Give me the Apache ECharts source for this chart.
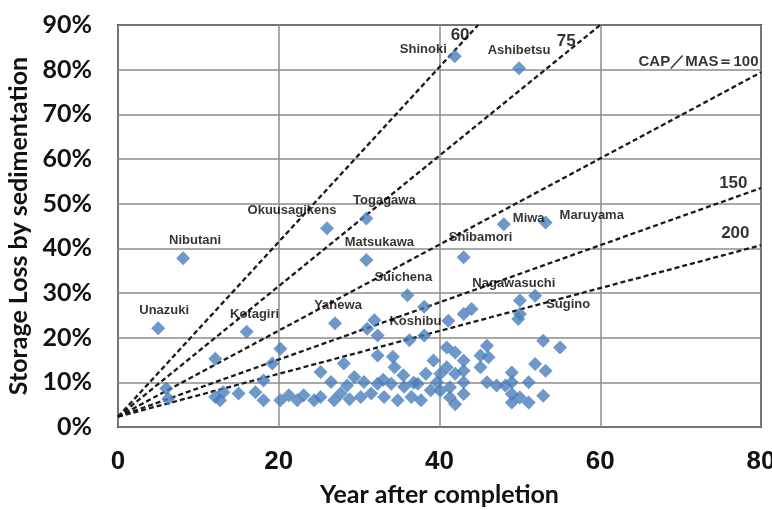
<!DOCTYPE html>
<html>
<head>
<meta charset="utf-8">
<script src="https://cdn.jsdelivr.net/npm/echarts@6/dist/echarts.min.js"></script>
<style>
  html, body { margin: 0; padding: 0; background: #fff; }
  #chart { width: 772px; height: 510px; }
</style>
</head>
<body>
<div id="chart"></div>
<script>
// named dams: [year after completion, storage loss %]
const damNames = ["Shinoki", "Ashibetsu", "Okuusagikens", "Togagawa", "Nibutani", "Matsukawa",
  "Miwa", "Maruyama", "Shibamori", "Suichena", "Unazuki", "Kotagiri", "Yahewa", "Koshibu",
  "Nagawasuchi", "Sugino"];
const damX = [41.9, 49.9, 26.0, 30.9, 8.1, 30.9, 48.0, 53.2, 43.0, 36.0, 5.0, 16.0, 27.0, 31.9, 50.0, 51.9];
const damY = [83.0, 80.3, 44.5, 46.7, 37.8, 37.4, 45.4, 45.8, 38.0, 29.5, 22.1, 21.3, 23.2, 23.9, 28.3, 29.4];

// other dams, unlabeled
const otherPoints = [
  [6.0, 8.6], [6.25, 6.3], [12.1, 15.3], [12.1, 6.7], [13.1, 7.8], [12.7, 6.0], [15.0, 7.5],
  [17.1, 7.8], [18.1, 6.0], [18.1, 10.4], [19.2, 14.2], [20.2, 17.5], [20.2, 6.0], [21.25, 7.1],
  [22.3, 6.0], [23.1, 7.1], [24.4, 6.0], [25.2, 6.7], [25.2, 12.3], [26.5, 10.1], [26.9, 6.0],
  [27.7, 7.5], [28.1, 14.2], [28.5, 9.3], [29.4, 11.2], [30.2, 6.7], [30.6, 10.1], [31.5, 7.5],
  [32.3, 9.7], [32.3, 16.0], [33.1, 6.7], [34.0, 9.7], [34.2, 15.7], [34.4, 13.4], [34.8, 6.0],
  [35.6, 9.0], [36.5, 6.7], [37.3, 9.7], [37.7, 6.0], [38.3, 11.9], [31.0, 22.0], [32.3, 20.5],
  [36.25, 19.4], [38.1, 20.5], [38.1, 26.9], [28.8, 6.2], [33.0, 10.6], [35.5, 11.6], [36.8, 9.9],
  [38.9, 8.2],
  [50.0, 25.3], [49.8, 24.2], [43.0, 25.3], [44.0, 26.4], [41.1, 23.8], [52.9, 19.3], [55.0, 17.8],
  [40.9, 17.8], [41.95, 16.7], [43.0, 14.9], [45.9, 18.2], [45.1, 16.0], [46.1, 15.6], [45.1, 13.4],
  [43.0, 12.6], [49.0, 12.2], [51.9, 14.1], [53.2, 12.6], [45.9, 10.0], [47.1, 9.3], [48.2, 9.3],
  [49.0, 10.0], [51.1, 10.0], [49.0, 7.4], [50.0, 6.6], [49.0, 5.5], [51.1, 5.5], [52.9, 7.0],
  [43.0, 10.0], [43.0, 7.4], [41.95, 5.1], [40.1, 11.9], [39.7, 10.0], [40.1, 8.1], [41.3, 8.9],
  [40.9, 13.4], [39.25, 14.9], [41.95, 11.9], [41.3, 6.6]
];

// CAP/MAS reference lines: start and end points
const refNames = ["60", "75", "CAP／MAS＝100", "150", "200"];
const refStart = [0, 2.3];
const refEndX = [44.8, 60.0, 80, 80, 80];
const refEndY = [90, 90, 79.4, 53.5, 40.7];

const labelPlace = {
  "Shinoki": { position: "left", offset: [3, -7] },
  "Ashibetsu": { position: "top", offset: [0, 0] },
  "Okuusagikens": { position: "top", offset: [-35, 0] },
  "Togagawa": { position: "top", offset: [18, 0] },
  "Nibutani": { position: "top", offset: [12, 0] },
  "Matsukawa": { position: "top", offset: [13, 0] },
  "Miwa": { position: "right", offset: [-2, -6] },
  "Maruyama": { position: "right", offset: [3, -7] },
  "Shibamori": { position: "top", offset: [17, -2] },
  "Suichena": { position: "top", offset: [-4, 0] },
  "Unazuki": { position: "top", offset: [6, 0] },
  "Kotagiri": { position: "top", offset: [8, 0] },
  "Yahewa": { position: "top", offset: [3, 0] },
  "Koshibu": { position: "right", offset: [4, 1] },
  "Nagawasuchi": { position: "top", offset: [-6, 0] },
  "Sugino": { position: "right", offset: [0, 9] }
};
const refLabelOffset = [[-18, 10], [-34, 16], [3, -10], [-8, -5], [-6, -12]];

const chart = echarts.init(document.getElementById("chart"));
const blue = "#4a7ebb";

const series = refNames.map((name, i) => ({
  type: "line",
  name: name,
  data: [refStart, [refEndX[i], refEndY[i]]],
  symbol: "none",
  silent: true,
  z: 1,
  lineStyle: { color: "#1a1a1a", width: 2.3, type: [5, 3] }
}));

series.push({
  type: "scatter",
  name: "refLabels",
  symbolSize: 1,
  itemStyle: { color: "rgba(0,0,0,0)" },
  silent: true,
  z: 4,
  data: refNames.map((n, i) => ({
    value: [refEndX[i], refEndY[i]],
    label: {
      show: true,
      formatter: n,
      position: i < 2 ? "inside" : "left",
      offset: refLabelOffset[i],
      color: "#000",
      fontFamily: "Liberation Sans",
      fontWeight: "bold",
      fontSize: i == 2 ? 15 : 17
    }
  }))
});

series.push({
  type: "scatter",
  name: "others",
  symbol: "diamond",
  symbolSize: 14,
  z: 3,
  itemStyle: { color: blue },
  data: otherPoints
});

series.push({
  type: "scatter",
  name: "dams",
  symbol: "diamond",
  symbolSize: 14,
  z: 3,
  itemStyle: { color: blue },
  data: damNames.map((n, i) => ({
    value: [damX[i], damY[i]],
    label: Object.assign({
      show: true,
      formatter: n,
      color: "#000",
      fontFamily: "Liberation Sans",
      fontWeight: "bold",
      fontSize: 13,
      distance: 4
    }, labelPlace[n])
  }))
});

const option = {
  animation: false,
  grid: {
    left: 118, right: 11, top: 25, bottom: 83,
    outerBoundsMode: "none",
    containLabel: false,
    show: true, borderColor: "#333", borderWidth: 2
  },
  xAxis: {
    type: "value",
    min: 0, max: 80, interval: 20,
    name: "Year after completion",
    nameLocation: "middle",
    nameGap: 55,
    nameTextStyle: { fontFamily: "Lato", fontWeight: "bold", fontSize: 25, color: "#111" },
    axisLine: { show: false },
    axisTick: { show: false },
    axisLabel: { margin: 22, fontFamily: "Liberation Sans", fontWeight: "bold", fontSize: 26, color: "#111" },
    splitLine: { lineStyle: { color: "#8c8c8c", width: 1.5 } }
  },
  yAxis: {
    type: "value",
    min: 0, max: 90, interval: 10,
    name: "Storage Loss by sedimentation",
    nameLocation: "middle",
    nameGap: 86,
    nameTextStyle: { fontFamily: "Lato", fontWeight: "bold", fontSize: 25, color: "#111" },
    axisLine: { show: false },
    axisTick: { show: false },
    axisLabel: { formatter: "{value}%", margin: 26, fontFamily: "Lato", fontWeight: "bold", fontSize: 25, color: "#111" },
    splitLine: { lineStyle: { color: "#8c8c8c", width: 1.5 } }
  },
  series: series
};
chart.setOption(option);
</script>
</body>
</html>
